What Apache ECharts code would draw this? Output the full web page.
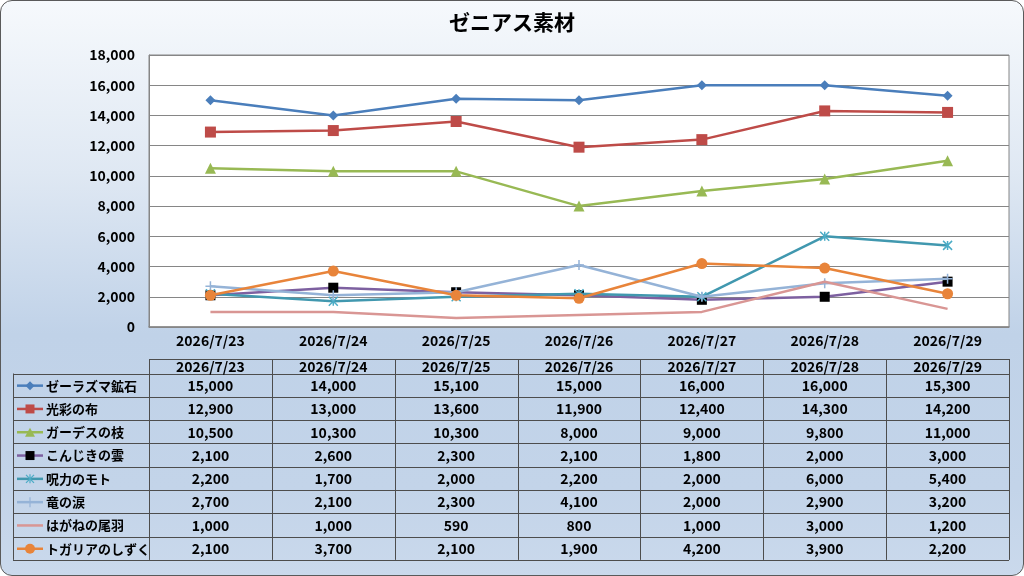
<!DOCTYPE html>
<html>
<head>
<meta charset="utf-8">
<script src="https://cdn.jsdelivr.net/npm/echarts@6/dist/echarts.min.js"></script>
<style>
  body { margin: 0; }
  #bg {
    position: absolute; left: 0; top: 0; width: 1024px; height: 576px;
    box-sizing: border-box; border: 1px solid #5a5a5a; border-radius: 12px;
    background: linear-gradient(to bottom, #f6f9fc 0%, #dfe8f3 30%, #c0d2e8 58%, #c3d4e9 85%, #cad9ec 100%);
  }
  #chart { position: absolute; left: 0; top: 0; width: 1024px; height: 576px; }
</style>
</head>
<body>
<div id="bg"></div>
<div id="chart"></div>
<script>
// 日付（カテゴリ）
const dates = ['2026/7/23', '2026/7/24', '2026/7/25', '2026/7/26', '2026/7/27', '2026/7/28', '2026/7/29']

// 素材名
const names = ['ゼーラズマ鉱石', '光彩の布', 'ガーデスの枝', 'こんじきの雲', '呪力のモト', '竜の涙', 'はがねの尾羽', 'トガリアのしずく']

// 各素材の値
const zerazuma = [15000, 14000, 15100, 15000, 16000, 16000, 15300]
const kousai = [12900, 13000, 13600, 11900, 12400, 14300, 14200]
const gardes = [10500, 10300, 10300, 8000, 9000, 9800, 11000]
const konjiki = [2100, 2600, 2300, 2100, 1800, 2000, 3000]
const juryoku = [2200, 1700, 2000, 2200, 2000, 6000, 5400]
const ryuNamida = [2700, 2100, 2300, 4100, 2000, 2900, 3200]
const hagane = [1000, 1000, 590, 800, 1000, 3000, 1200]
const togaria = [2100, 3700, 2100, 1900, 4200, 3900, 2200]

const values = [zerazuma, kousai, gardes, konjiki, juryoku, ryuNamida, hagane, togaria]

// y軸の目盛り
const yMin = 0
const yMax = 18000
const yStep = 2000

const FONT = '"Noto Sans CJK JP", "Noto Sans", sans-serif'

// 線の色・マーカー
const STAR = 'path://M0,0L10,10M10,0L0,10M5,0L5,10'
const PLUS = 'path://M5,0L5,10M0,5L10,5'
const styles = [
  { line: '#4a7ebb', fill: '#4a7ebb', symbol: 'diamond', size: 10 },
  { line: '#be4b48', fill: '#be4b48', symbol: 'rect', size: 11 },
  { line: '#98b954', fill: '#98b954', symbol: 'triangle', size: 11 },
  { line: '#7d60a0', fill: '#000000', symbol: 'rect', size: 10 },
  { line: '#4198af', fill: 'none', border: '#4bacc6', symbol: STAR, size: 9 },
  { line: '#95b3d7', fill: 'none', border: '#95b3d7', symbol: PLUS, size: 10 },
  { line: '#d99694', fill: '#d99694', symbol: 'none', size: 0 },
  { line: '#e8843a', fill: '#e8843a', symbol: 'circle', size: 11 }
]

const fmt = v => v.toLocaleString('en-US')

const dom = document.querySelector('#chart')
const myChart = echarts.init(dom)

// 表の位置
const headTop = 359
const rowTop = 373.5
const rowH = 23.3
const legendLeft = 13

const series = names.map((name, i) => {
  const s = styles[i]
  const item = { color: s.fill }
  if (s.border) {
    item.borderColor = s.border
    item.borderWidth = 1.5
  }
  return {
    name: name,
    type: 'line',
    data: values[i],
    symbol: s.symbol,
    symbolSize: s.size,
    showSymbol: s.symbol !== 'none',
    lineStyle: { color: s.line, width: 2.5 },
    itemStyle: item,
    emphasis: { disabled: true },
    animation: false,
    z: 2 + i
  }
})

const option = {
  animation: false,
  title: {
    text: 'ゼニアス素材',
    left: 'center',
    top: 7,
    textStyle: { fontFamily: FONT, fontSize: 21, fontWeight: 'bold', color: '#000' }
  },
  grid: {
    left: 149,
    right: 15,
    top: 55,
    bottom: 249,
    show: true,
    backgroundColor: '#ffffff',
    borderColor: '#868686',
    borderWidth: 1
  },
  xAxis: {
    type: 'category',
    data: dates,
    boundaryGap: true,
    axisLine: { lineStyle: { color: '#868686', width: 1.5 } },
    axisTick: { show: false },
    axisLabel: { fontFamily: FONT, fontSize: 14, fontWeight: 'bold', color: '#000', margin: 7 }
  },
  yAxis: {
    type: 'value',
    min: yMin,
    max: yMax,
    interval: yStep,
    axisLine: { show: true, lineStyle: { color: '#868686' } },
    axisTick: { show: false },
    splitLine: { lineStyle: { color: '#868686' } },
    axisLabel: { fontFamily: FONT, fontSize: 14, fontWeight: 'bold', color: '#000', margin: 14, formatter: fmt }
  },
  series: series
}

myChart.setOption(option)

// 凡例のマーカー
function legendMarker(s, cx, cy) {
  const out = []
  const h = 4.5
  if (s.symbol === 'diamond') {
    out.push({ type: 'polygon', shape: { points: [[cx, cy - h], [cx + h, cy], [cx, cy + h], [cx - h, cy]] }, style: { fill: s.fill } })
  } else if (s.symbol === 'rect') {
    out.push({ type: 'rect', shape: { x: cx - h, y: cy - h, width: h * 2, height: h * 2 }, style: { fill: s.fill } })
  } else if (s.symbol === 'triangle') {
    out.push({ type: 'polygon', shape: { points: [[cx, cy - h], [cx + h + 0.5, cy + h], [cx - h - 0.5, cy + h]] }, style: { fill: s.fill } })
  } else if (s.symbol === 'circle') {
    out.push({ type: 'circle', shape: { cx: cx, cy: cy, r: h + 0.5 }, style: { fill: s.fill } })
  } else if (s.symbol === STAR) {
    const st = { stroke: s.border, lineWidth: 1.2 }
    out.push({ type: 'line', shape: { x1: cx - 4, y1: cy - 4, x2: cx + 4, y2: cy + 4 }, style: st })
    out.push({ type: 'line', shape: { x1: cx + 4, y1: cy - 4, x2: cx - 4, y2: cy + 4 }, style: st })
    out.push({ type: 'line', shape: { x1: cx, y1: cy - 4.5, x2: cx, y2: cy + 4.5 }, style: st })
  } else if (s.symbol === PLUS) {
    const st = { stroke: s.border, lineWidth: 1.2 }
    out.push({ type: 'line', shape: { x1: cx, y1: cy - 5, x2: cx, y2: cy + 5 }, style: st })
  }
  return out
}

// データテーブルを描く
function renderTable() {
  const rect = myChart.getModel().getComponent('grid').coordinateSystem.getRect()
  const left = rect.x
  const right = rect.x + rect.width
  const colW = rect.width / dates.length
  const bottom = rowTop + rowH * names.length
  const elements = []
  const lineStyle = { stroke: '#4d4d4d', lineWidth: 1 }

  // 横線
  elements.push({ type: 'line', shape: { x1: left, y1: headTop + 0.5, x2: right, y2: headTop + 0.5 }, style: lineStyle })
  for (let r = 0; r <= names.length; r++) {
    const y = Math.round(rowTop + r * rowH) + 0.5
    elements.push({ type: 'line', shape: { x1: legendLeft, y1: y, x2: right, y2: y }, style: lineStyle })
  }
  // 縦線
  elements.push({ type: 'line', shape: { x1: legendLeft + 0.5, y1: rowTop, x2: legendLeft + 0.5, y2: bottom }, style: lineStyle })
  for (let c = 0; c <= dates.length; c++) {
    const x = Math.round(left + c * colW) + 0.5
    elements.push({ type: 'line', shape: { x1: x, y1: headTop, x2: x, y2: bottom }, style: lineStyle })
  }

  // 見出しの日付
  dates.forEach((d, c) => {
    const cx = myChart.convertToPixel({ xAxisIndex: 0 }, c)
    elements.push({
      type: 'text',
      style: { text: d, x: cx, y: (headTop + rowTop) / 2 + 0.5, align: 'center', verticalAlign: 'middle',
        font: 'bold 14px ' + FONT, fill: '#000' }
    })
  })

  // 凡例と値
  names.forEach((name, r) => {
    const cy = rowTop + rowH * (r + 0.5) + 0.5
    const s = styles[r]
    elements.push({ type: 'line', shape: { x1: 17, y1: cy, x2: 43, y2: cy }, style: { stroke: s.line, lineWidth: 2.5 } })
    legendMarker(s, 30, cy).forEach(e => elements.push(e))
    elements.push({
      type: 'text',
      style: { text: name, x: 46, y: cy, align: 'left', verticalAlign: 'middle', font: 'bold 13px ' + FONT, fill: '#000' }
    })
    values[r].forEach((v, c) => {
      const cx = myChart.convertToPixel({ xAxisIndex: 0 }, c)
      elements.push({
        type: 'text',
        style: { text: fmt(v), x: cx, y: cy, align: 'center', verticalAlign: 'middle', font: 'bold 14px ' + FONT, fill: '#000' }
      })
    })
  })

  elements.forEach(e => { e.silent = true })
  myChart.setOption({ graphic: elements })
}

renderTable()
</script>
</body>
</html>
